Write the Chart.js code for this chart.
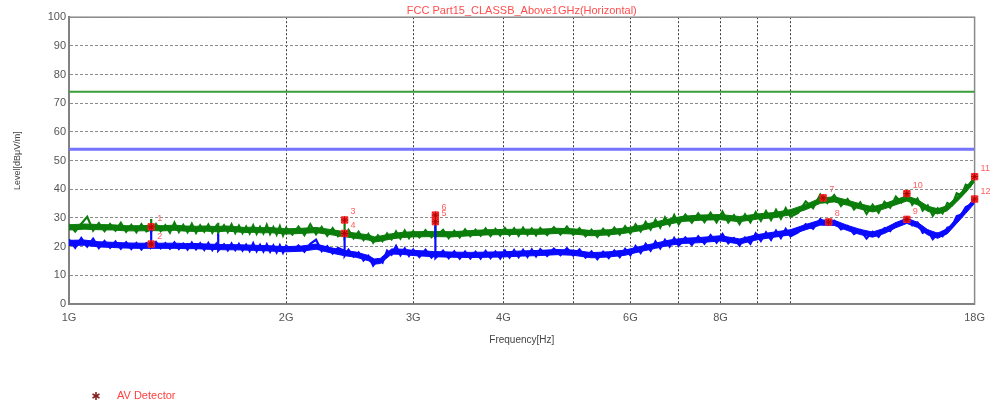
<!DOCTYPE html>
<html lang="en">
<head>
  <meta charset="UTF-8" />
  <title>FCC Part15 Class B Above 1GHz (Horizontal)</title>
  <script src="https://cdn.jsdelivr.net/npm/chart.js"></script>
  <style>
    html, body { margin: 0; padding: 0; background: #ffffff; }
    #wrap { width: 992px; height: 406px; position: relative; }
  </style>
</head>
<body>
  <div id="wrap"><canvas id="emiChart"></canvas></div>

  <script>
    // frequency sweep points in GHz (repeated values = single-bin spikes)
    const freqGHz = [
      1.00, 1.02, 1.04, 1.06, 1.08, 1.10, 1.12, 1.14, 1.16, 1.18,
      1.20, 1.22, 1.24, 1.26, 1.28, 1.30, 1.30, 1.30, 1.32, 1.34,
      1.36, 1.38, 1.40, 1.42, 1.44, 1.46, 1.48, 1.50, 1.52, 1.54,
      1.56, 1.58, 1.60, 1.61, 1.61, 1.61, 1.64, 1.66, 1.68, 1.70,
      1.72, 1.74, 1.76, 1.78, 1.80, 1.82, 1.84, 1.86, 1.88, 1.90,
      1.92, 1.94, 1.96, 1.98, 2.00,
      2.04, 2.08, 2.12, 2.16, 2.20, 2.24, 2.28, 2.32, 2.36, 2.41,
      2.41, 2.41, 2.44, 2.48, 2.52, 2.56, 2.60, 2.64, 2.68, 2.72,
      2.76, 2.80, 2.84, 2.88, 2.92, 2.96, 3.00,
      3.06, 3.12, 3.18, 3.22, 3.22, 3.22, 3.30, 3.36, 3.42, 3.48,
      3.54, 3.60, 3.66, 3.72, 3.78, 3.84, 3.90, 3.96, 4.02, 4.08,
      4.14, 4.20, 4.26, 4.32, 4.38, 4.44, 4.50,
      4.6, 4.7, 4.8, 4.9, 5.0, 5.1, 5.2, 5.3, 5.4, 5.5,
      5.6, 5.7, 5.8, 5.9, 6.0, 6.1, 6.2, 6.3, 6.4, 6.5,
      6.6, 6.7, 6.8, 6.9, 7.0,
      7.15, 7.3, 7.45, 7.6, 7.75, 7.9, 8.05, 8.2, 8.35, 8.5,
      8.65, 8.8, 8.95, 9.1, 9.25, 9.4, 9.55, 9.7, 9.85, 10.0,
      10.25, 10.5, 10.75, 11.0, 11.25, 11.5, 11.75, 12.0, 12.25, 12.5,
      12.75, 13.0, 13.25, 13.5, 13.75, 14.0, 14.25, 14.5, 14.75, 15.0,
      15.25, 15.5, 15.75, 16.0, 16.25, 16.5, 16.75, 17.0, 17.25, 17.5,
      17.75, 18.0
    ];

    // peak trace (green), dBuV/m
    const peakLevel = [
      27.8, 25.3, 28.0, 30.4, 25.6, 28.2, 25.4, 27.9, 25.6, 28.3,
      25.2, 27.6, 25.0, 27.8, 25.3, 26.0, 29.6, 25.2, 27.9, 25.4,
      27.5, 24.9, 28.4, 25.1, 27.6, 25.0, 28.0, 24.8, 27.4, 25.2,
      27.7, 24.9, 27.2, 25.0, 28.3, 24.9, 27.5, 25.1, 27.8, 24.8,
      27.3, 24.7, 27.0, 24.6, 27.4, 24.5, 26.9, 24.6, 27.6, 24.4,
      26.8, 24.2, 27.1, 23.9, 26.5,
      24.2, 27.0, 24.0, 27.8, 24.3, 26.9, 23.8, 26.4, 23.6, 25.0,
      29.3, 23.4, 25.8, 22.9, 25.2, 22.3, 24.4, 21.4, 23.9, 21.9,
      24.6, 22.6, 25.3, 22.8, 25.6, 23.0, 25.4,
      23.2, 25.7, 23.3, 24.5, 31.0, 23.4, 25.8, 23.0, 25.5, 23.2,
      26.0, 23.6, 25.9, 23.8, 26.3, 23.7, 26.2, 23.9, 26.5, 24.0,
      26.4, 23.8, 26.6, 24.1, 26.3, 23.9, 26.5,
      24.0, 26.8, 24.2, 27.0, 24.1, 26.4, 23.6, 25.9, 23.4, 26.2,
      23.8, 26.6, 24.2, 27.1, 24.6, 27.8, 25.3, 28.6, 26.0, 29.4,
      26.6, 30.2, 27.4, 31.0, 27.8,
      31.2, 28.4, 31.6, 28.6, 31.8, 28.5, 32.2, 28.4, 31.0, 27.9,
      31.3, 28.5, 32.0, 29.0, 32.4, 29.3, 32.8, 29.8, 33.4, 30.4,
      31.8, 35.8, 33.4, 38.2, 35.2, 38.0, 34.2, 36.6, 33.0, 35.4,
      31.4, 34.6, 31.8, 35.6, 33.6, 37.4, 35.4, 38.8, 34.6, 36.8,
      32.6, 34.4, 30.8, 33.4, 31.6, 35.2, 34.4, 38.6, 37.8, 41.6,
      41.0, 44.6
    ];

    // average trace (blue), dBuV/m
    const avgLevel = [
      22.5, 19.6, 23.0, 20.0, 22.8, 19.5, 22.0, 19.6, 21.8, 19.3,
      21.5, 19.2, 21.3, 19.0, 21.2, 20.5, 26.8, 19.8, 21.6, 19.4,
      21.2, 19.3, 21.5, 19.2, 21.0, 19.0, 21.4, 19.1, 21.2, 18.9,
      21.3, 18.8, 21.0, 19.5, 24.6, 18.6, 20.8, 18.7, 21.1, 18.8,
      20.9, 18.6, 20.7, 18.5, 21.2, 18.4, 20.6, 18.3, 20.8, 18.2,
      20.4, 18.0, 20.5, 17.9, 20.3,
      18.6, 20.4, 18.2, 21.0, 22.4, 18.4, 20.2, 17.6, 19.6, 18.5,
      24.8, 16.8, 18.9, 16.5, 18.0, 15.2, 16.8, 13.4, 15.6, 14.4,
      18.6, 17.2, 20.2, 17.0, 19.4, 16.8, 19.0,
      16.4, 18.9, 16.2, 17.5, 28.7, 16.0, 18.6, 16.0, 18.4, 15.8,
      18.3, 15.9, 18.2, 15.8, 18.5, 16.0, 18.3, 15.9, 18.6, 16.2,
      18.8, 16.3, 18.9, 16.4, 19.0, 16.6, 19.1,
      16.8, 19.3, 17.0, 19.5, 16.9, 19.0, 16.2, 18.3, 15.6, 18.2,
      16.0, 18.6, 16.3, 19.2, 17.0, 20.2, 17.8, 21.0, 18.6, 21.8,
      19.4, 22.4, 20.0, 23.0, 20.3,
      23.2, 20.6, 23.6, 21.0, 24.0, 21.4, 24.4, 21.2, 23.0, 20.4,
      23.2, 21.0, 24.6, 22.0, 25.0, 22.4, 25.6, 23.0, 26.2, 23.6,
      25.0, 27.8, 26.2, 29.6, 27.6, 29.0, 26.0, 27.2, 24.4, 25.8,
      22.8, 25.2, 23.4, 26.4, 25.4, 28.2, 27.8, 30.0, 27.4, 28.4,
      24.8, 25.6, 22.6, 24.6, 23.6, 26.6, 27.0, 30.6, 31.2, 33.8,
      34.6, 36.8
    ];

    // dense core of the noise band (GHz / dBuV/m)
    const bandFreq = [
      1.00, 1.05, 1.10, 1.15, 1.20, 1.25, 1.30, 1.35, 1.40, 1.45,
      1.50, 1.55, 1.60, 1.65, 1.70, 1.75, 1.80, 1.85, 1.90, 1.95,
      2.00, 2.10, 2.20, 2.30, 2.40, 2.50, 2.60, 2.65, 2.70, 2.80,
      2.90, 3.00, 3.20, 3.40, 3.60, 3.80, 4.00, 4.25, 4.50, 4.75,
      5.00, 5.30, 5.60, 5.90, 6.20, 6.50, 6.80, 7.10, 7.50, 8.00,
      8.50, 9.00, 9.50, 10.0, 10.5, 11.0, 11.5, 12.0, 12.5, 13.0,
      13.5, 14.0, 14.5, 15.0, 15.5, 16.0, 16.5, 17.0, 17.5, 18.0
    ];
    const peakUpper = [
      27.6, 27.9, 27.7, 27.6, 27.3, 27.3, 27.4, 27.3, 27.5, 27.2,
      27.1, 27.2, 27.0, 27.2, 27.0, 26.7, 26.8, 26.6, 26.7, 26.4,
      26.2, 26.4, 26.7, 26.0, 25.3, 24.7, 24.1, 23.4, 23.7, 24.5,
      25.0, 25.2, 25.3, 25.2, 25.6, 25.9, 26.0, 26.1, 26.1, 26.4,
      26.2, 25.6, 25.9, 26.5, 27.4, 28.6, 29.7, 30.6, 31.0, 31.2,
      30.5, 31.4, 31.9, 32.9, 34.7, 36.9, 37.4, 36.2, 34.9, 33.9,
      35.0, 36.4, 37.7, 36.4, 34.1, 33.2, 34.3, 37.4, 40.7, 44.4
    ];
    const peakLower = [
      25.8, 26.1, 25.9, 25.8, 25.5, 25.5, 25.6, 25.5, 25.7, 25.4,
      25.3, 25.4, 25.2, 25.4, 25.2, 24.9, 25.0, 24.8, 24.9, 24.6,
      24.4, 24.6, 24.9, 24.2, 23.5, 22.9, 22.3, 21.6, 21.9, 22.7,
      23.2, 23.4, 23.5, 23.4, 23.8, 24.1, 24.2, 24.3, 24.3, 24.6,
      24.4, 23.8, 24.1, 24.7, 25.6, 26.8, 27.9, 28.8, 29.2, 29.4,
      28.7, 29.6, 30.1, 31.1, 32.9, 35.1, 35.6, 34.4, 33.1, 32.1,
      33.2, 34.6, 35.9, 34.6, 32.3, 31.4, 32.5, 35.6, 38.9, 42.6
    ];
    const avgUpper = [
      22.2, 22.3, 21.7, 21.5, 21.3, 21.2, 21.2, 21.2, 21.2, 21.1,
      21.1, 20.9, 20.8, 20.7, 20.7, 20.6, 20.5, 20.4, 20.3, 20.1,
      20.0, 20.2, 20.9, 19.7, 18.7, 18.1, 16.9, 15.7, 15.9, 19.2,
      19.1, 18.7, 18.3, 18.1, 18.0, 18.1, 18.2, 18.5, 18.7, 19.0,
      18.8, 17.9, 18.2, 18.8, 20.1, 21.2, 22.3, 22.9, 23.2, 23.8,
      22.7, 24.2, 25.1, 25.9, 27.7, 29.3, 29.2, 27.4, 26.0, 25.1,
      26.4, 28.4, 29.9, 28.5, 25.9, 24.7, 26.3, 29.9, 33.4, 36.9
    ];
    const avgLower = [
      20.4, 20.5, 19.9, 19.7, 19.5, 19.4, 19.4, 19.4, 19.4, 19.3,
      19.3, 19.1, 19.0, 18.9, 18.9, 18.8, 18.7, 18.6, 18.5, 18.3,
      18.2, 18.4, 19.1, 17.9, 16.9, 16.3, 15.1, 13.9, 14.1, 17.4,
      17.3, 16.9, 16.5, 16.3, 16.2, 16.3, 16.4, 16.7, 16.9, 17.2,
      17.0, 16.1, 16.4, 17.0, 18.3, 19.4, 20.5, 21.1, 21.4, 22.0,
      20.9, 22.4, 23.3, 24.1, 25.9, 27.5, 27.4, 25.6, 24.2, 23.3,
      24.6, 26.6, 28.1, 26.7, 24.1, 22.9, 24.5, 28.1, 31.6, 35.1
    ];

    // limit lines
    const limitFreq = [1, 18];
    const peakLimit = [74, 74];
    const avgLimit = [54, 54];

    // marker table
    const markerNo = ['1', '2', '3', '4', '5', '6', '7', '8', '9', '10', '11', '12'];
    const markerFreq = [1.30, 1.30, 2.41, 2.41, 3.22, 3.22, 11.1, 11.3, 14.5, 14.5, 18.0, 18.0];
    const markerLevel = [26.9, 20.9, 29.3, 24.6, 28.7, 31.0, 37.0, 28.6, 29.5, 38.5, 44.4, 36.6];

    // x axis ticks
    const xTickValues = [1, 2, 3, 4, 5, 6, 7, 8, 9, 10, 18];
    const xTickLabels = ['1G', '2G', '3G', '4G', '', '6G', '', '8G', '', '', '18G'];

    const FONT = "'Liberation Sans', Arial, sans-serif";
    const GREEN = '#0b7d0b';
    const BLUE = '#0a0aff';

    const toPoints = (xs, ys) => xs.map((x, i) => ({ x: x, y: ys[i] }));
    const markerPoints = toPoints(markerFreq, markerLevel);

    const framePlugin = {
      id: 'frame',
      beforeDatasetsDraw(chart) {
        const a = chart.chartArea, ctx = chart.ctx;
        ctx.save();
        ctx.strokeStyle = '#8a8a8a';
        ctx.lineWidth = 1.5;
        ctx.strokeRect(a.left, a.top, a.right - a.left, a.bottom - a.top);
        ctx.restore();
      }
    };

    const markerLabelPlugin = {
      id: 'markerLabels',
      afterDatasetsDraw(chart) {
        const meta = chart.getDatasetMeta(chart.data.datasets.length - 1);
        const ctx = chart.ctx;
        ctx.save();
        ctx.font = '9px ' + FONT;
        ctx.fillStyle = '#ff6060';
        ctx.textAlign = 'left';
        ctx.textBaseline = 'middle';
        meta.data.forEach((pt, i) => {
          ctx.fillText(markerNo[i], pt.x + 6, pt.y - 8);
        });
        ctx.restore();
      }
    };

    const legendPlugin = {
      id: 'avLegend',
      afterDraw(chart) {
        const ctx = chart.ctx;
        const cx = 96, cy = 396, r = 4;
        ctx.save();
        ctx.strokeStyle = '#8b1c1c';
        ctx.lineWidth = 1.6;
        for (let k = 0; k < 3; k++) {
          const ang = Math.PI / 2 + k * Math.PI / 3;
          ctx.beginPath();
          ctx.moveTo(cx - r * Math.cos(ang), cy - r * Math.sin(ang));
          ctx.lineTo(cx + r * Math.cos(ang), cy + r * Math.sin(ang));
          ctx.stroke();
        }
        ctx.font = '11px ' + FONT;
        ctx.fillStyle = '#ff4040';
        ctx.textBaseline = 'middle';
        ctx.fillText('AV Detector', 117, cy);
        ctx.restore();
      }
    };

    const bandSet = (label, ys, color, fill, order) => ({
      label: label,
      data: toPoints(bandFreq, ys),
      borderColor: color,
      backgroundColor: color,
      borderWidth: 1,
      pointRadius: 0,
      tension: 0,
      fill: fill,
      order: order
    });

    new Chart(document.getElementById('emiChart'), {
      type: 'line',
      data: {
        datasets: [
          {
            label: 'Peak Limit',
            data: toPoints(limitFreq, peakLimit),
            borderColor: '#3a9e3a',
            borderWidth: 2,
            pointRadius: 0,
            order: 9
          },
          {
            label: 'AV Limit',
            data: toPoints(limitFreq, avgLimit),
            borderColor: '#7474ff',
            borderWidth: 3,
            pointRadius: 0,
            order: 9
          },
          bandSet('Peak band hi', peakUpper, GREEN, '+1', 8),
          bandSet('Peak band lo', peakLower, GREEN, false, 8),
          {
            label: 'Peak',
            data: toPoints(freqGHz, peakLevel),
            borderColor: GREEN,
            borderWidth: 2.2,
            pointRadius: 0,
            tension: 0,
            order: 7
          },
          bandSet('AV band hi', avgUpper, BLUE, '+1', 6),
          bandSet('AV band lo', avgLower, BLUE, false, 6),
          {
            label: 'AV',
            data: toPoints(freqGHz, avgLevel),
            borderColor: BLUE,
            borderWidth: 2.2,
            pointRadius: 0,
            tension: 0,
            order: 5
          },
          {
            label: 'Marker box',
            type: 'scatter',
            data: markerPoints,
            pointStyle: 'rect',
            pointRadius: 4.5,
            backgroundColor: 'rgba(255,30,30,0.85)',
            borderColor: '#ff2020',
            borderWidth: 1,
            clip: false,
            order: 2
          },
          {
            label: 'AV Detector',
            type: 'scatter',
            data: markerPoints,
            pointStyle: 'star',
            pointRadius: 3.5,
            borderColor: '#b00000',
            borderWidth: 1,
            clip: false,
            order: 1
          }
        ]
      },
      options: {
        responsive: true,
        maintainAspectRatio: false,
        animation: false,
        layout: { padding: { top: 0, right: 16, bottom: 56, left: 0 } },
        plugins: {
          legend: { display: false },
          tooltip: { enabled: false },
          title: {
            display: true,
            fullSize: false,
            text: 'FCC Part15_CLASSB_Above1GHz(Horizontal)',
            color: '#ff4d4d',
            font: { family: FONT, size: 11, weight: 'normal' },
            padding: { top: 4, bottom: 0 }
          }
        },
        scales: {
          x: {
            type: 'logarithmic',
            min: 1,
            max: 18,
            afterBuildTicks(scale) {
              scale.ticks = xTickValues.map(v => ({ value: v }));
            },
            afterFit(scale) { scale.height = 46; },
            ticks: {
              autoSkip: false,
              maxRotation: 0,
              padding: 7,
              color: '#555',
              font: { family: FONT, size: 11 },
              callback: (val, i) => xTickLabels[i]
            },
            grid: {
              color: '#3a3a3a',
              lineWidth: 1,
              drawTicks: false
            },
            border: { display: true, color: '#6a6a6a', width: 2, dash: [2, 2] },
            title: {
              display: true,
              text: 'Frequency[Hz]',
              color: '#444',
              font: { family: FONT, size: 10 },
              padding: { top: 0, bottom: 4 }
            }
          },
          y: {
            min: 0,
            max: 100,
            afterFit(scale) { scale.width = 69; },
            ticks: {
              stepSize: 10,
              padding: 3,
              color: '#555',
              font: { family: FONT, size: 11 }
            },
            grid: {
              color: '#8c8c8c',
              lineWidth: 1,
              drawTicks: false
            },
            border: { display: true, color: '#6a6a6a', width: 2, dash: [3, 2] },
            title: {
              display: true,
              text: 'Level[dBμV/m]',
              color: '#444',
              font: { family: FONT, size: 9 },
              padding: { top: 12, bottom: 0 }
            }
          }
        }
      },
      plugins: [framePlugin, markerLabelPlugin, legendPlugin]
    });
  </script>
</body>
</html>
